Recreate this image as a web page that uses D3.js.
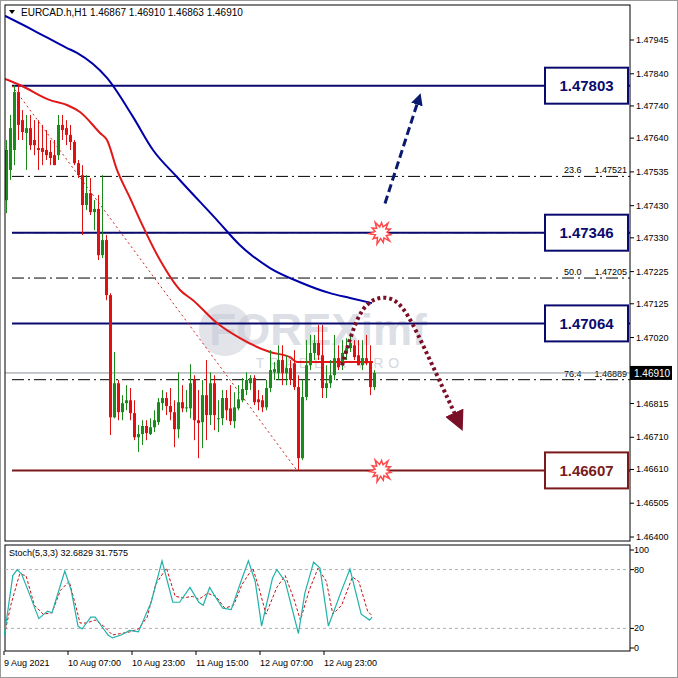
<!DOCTYPE html>
<html><head><meta charset="utf-8">
<script src="https://cdn.jsdelivr.net/npm/d3@7"></script>
<style>body{margin:0;background:#fff}svg{display:block}text{font-family:"Liberation Sans",Arial,sans-serif}</style>
</head><body>
<script>
// OHLC candles (hourly, EURCAD)
const opens=[1.47447,1.47541,1.47603,1.47783,1.47696,1.47656,1.47671,1.47634,1.47609,1.47609,1.47603,1.47597,1.47587,1.47587,1.47681,1.47671,1.47650,1.47628,1.47562,1.47525,1.47432,1.47469,1.47410,1.47420,1.47276,1.47323,1.47152,1.46772,1.46878,1.46788,1.46816,1.46825,1.46785,1.46710,1.46720,1.46745,1.46720,1.46741,1.46757,1.46816,1.46832,1.46807,1.46788,1.46735,1.46819,1.46800,1.46800,1.46888,1.46763,1.46757,1.46841,1.46779,1.46878,1.46769,1.46769,1.46832,1.46800,1.46760,1.46800,1.46825,1.46857,1.46878,1.46894,1.46828,1.46825,1.46803,1.46863,1.46912,1.46909,1.46950,1.46909,1.46925,1.46940,1.46866,1.46645,1.46835,1.46934,1.46972,1.47003,1.46965,1.46863,1.46878,1.46903,1.46956,1.46934,1.46972,1.46987,1.46996,1.46965,1.46934,1.46956,1.46944,1.46866];
const highs=[1.47634,1.47712,1.47805,1.47805,1.47727,1.47712,1.47712,1.47696,1.47696,1.47681,1.47665,1.47634,1.47634,1.47712,1.47712,1.47696,1.47681,1.47634,1.47572,1.47556,1.47525,1.47516,1.47447,1.47463,1.47525,1.47339,1.47158,1.46975,1.46888,1.46841,1.46872,1.46863,1.46825,1.46748,1.46763,1.46763,1.46769,1.46794,1.46832,1.46857,1.46850,1.46863,1.46825,1.46912,1.46872,1.46857,1.46937,1.46903,1.46857,1.46888,1.46950,1.46912,1.46903,1.46825,1.46857,1.46857,1.46872,1.46850,1.46872,1.46894,1.46912,1.46903,1.46903,1.46857,1.46841,1.46888,1.46981,1.46944,1.46996,1.46996,1.46965,1.46950,1.46981,1.46903,1.46888,1.47012,1.47028,1.47028,1.47059,1.47059,1.46934,1.46950,1.47028,1.46996,1.47012,1.47018,1.47028,1.47012,1.47012,1.47012,1.47028,1.46996,1.46919];
const lows=[1.47407,1.47510,1.47556,1.47634,1.47634,1.47541,1.47603,1.47587,1.47541,1.47556,1.47572,1.47556,1.47556,1.47572,1.47634,1.47618,1.47603,1.47556,1.47516,1.47339,1.47416,1.47401,1.47354,1.47261,1.47267,1.47136,1.46717,1.46769,1.46763,1.46763,1.46794,1.46763,1.46701,1.46664,1.46686,1.46701,1.46717,1.46726,1.46748,1.46794,1.46779,1.46763,1.46679,1.46707,1.46788,1.46788,1.46769,1.46701,1.46645,1.46676,1.46701,1.46748,1.46732,1.46726,1.46748,1.46763,1.46748,1.46738,1.46794,1.46819,1.46841,1.46857,1.46810,1.46794,1.46788,1.46794,1.46850,1.46888,1.46888,1.46872,1.46872,1.46872,1.46857,1.46608,1.46639,1.46825,1.46919,1.46950,1.46950,1.46832,1.46832,1.46863,1.46888,1.46919,1.46919,1.46950,1.46975,1.46950,1.46934,1.46919,1.46934,1.46841,1.46857];
const closes=[1.47603,1.47671,1.47783,1.47681,1.47659,1.47671,1.47618,1.47618,1.47603,1.47597,1.47587,1.47578,1.47556,1.47681,1.47665,1.47650,1.47628,1.47562,1.47525,1.47432,1.47469,1.47410,1.47420,1.47276,1.47323,1.47152,1.46772,1.46878,1.46788,1.46816,1.46825,1.46785,1.46710,1.46720,1.46745,1.46723,1.46741,1.46763,1.46819,1.46832,1.46807,1.46788,1.46735,1.46819,1.46800,1.46803,1.46878,1.46763,1.46754,1.46841,1.46779,1.46878,1.46779,1.46769,1.46832,1.46794,1.46760,1.46803,1.46828,1.46860,1.46888,1.46894,1.46819,1.46819,1.46803,1.46863,1.46919,1.46922,1.46950,1.46909,1.46925,1.46888,1.46866,1.46645,1.46835,1.46934,1.46972,1.47003,1.46965,1.46863,1.46878,1.46903,1.46956,1.46928,1.46972,1.46987,1.47003,1.46959,1.46934,1.46956,1.46940,1.46866,1.46910];
// moving averages [bar index, price]
const maRed=[[-0.25,1.47824],[3.5,1.47805],[11,1.47758],[15.25,1.47743],[18.5,1.47721],[23.5,1.47656],[25.25,1.47634],[27.75,1.47541],[31,1.47454],[33.5,1.47385],[38.5,1.47261],[43.5,1.47168],[46.75,1.47136],[52.75,1.47065],[58.5,1.47018],[66,1.46975],[71,1.46959],[72.75,1.46944],[91.75,1.46944]];
const maBlue=[[-0.25,1.48020],[6.75,1.47976],[15.25,1.47920],[17.75,1.47905],[25.25,1.47827],[31.75,1.47706],[36.75,1.47603],[42.75,1.47519],[52.75,1.47385],[58.5,1.47307],[66,1.47236],[73.5,1.47192],[81,1.47158],[86,1.47143],[91.5,1.47127]];
// stochastic [bar index, value]
const stochMain=[[-0.4,13.3],[1.7,73.9],[2.8,80],[3.9,75.4],[6.1,52.7],[8.2,30],[10.4,37.6],[11.5,36],[14.7,78.5],[16.3,58.8],[18,22.4],[19,19.4],[21.2,31.5],[22.3,31.5],[24.4,19.4],[25.5,13.3],[26.6,10.3],[28.8,13.3],[30.9,17.9],[33.1,16.4],[36.3,46.7],[39,89],[41.7,46.7],[43.4,46.7],[46,61.8],[48.2,46.7],[49.3,43.6],[50.9,61.8],[52.5,51.2],[54.2,40.6],[56.3,39.1],[59,70.9],[60.6,89],[62.3,67.9],[63.9,22.4],[66.6,70.9],[67.7,80],[69.8,67.9],[73.1,14.8],[74.7,55.8],[76.9,87.6],[78.5,81.5],[80.6,22.4],[83.9,58.8],[86,80.6],[88.8,34.5],[90.9,28.5],[91.5,31.5]];
const stochSignal=[[-0.4,13.3],[1.2,43.6],[3.4,75.4],[5,73.9],[7.1,43.6],[9.3,34.5],[11.5,36],[13.6,58.8],[15.8,67.9],[17.4,43.6],[18.5,25.5],[20.1,25.5],[22.3,28.5],[24.4,22.4],[26.6,13.3],[28.8,14.8],[30.9,16.4],[33.1,19.4],[35.3,31.5],[37.4,64.8],[40.1,81.5],[42.3,52.7],[44.4,51.2],[46.6,52.7],[48.2,49.7],[50.4,55.8],[52.5,52.7],[54.7,40.6],[56.9,43.6],[59,64.8],[61.7,81.5],[63.4,58.8],[65,34.5],[67.7,61.8],[69.8,73.9],[72,49.7],[73.6,28.5],[75.8,58.8],[78,81.5],[80.1,67.9],[81.7,34.5],[83.9,43.6],[86.6,72.4],[88.2,67.9],[90.4,37.6],[91.5,33]];
const priceTicks=[1.47945,1.47840,1.47740,1.47640,1.47535,1.47430,1.47330,1.47225,1.47125,1.47020,1.46815,1.46710,1.46610,1.46505,1.46400];
const timeTicks=[[0,"9 Aug 2021"],[16,"10 Aug 07:00"],[32,"10 Aug 23:00"],[48,"11 Aug 15:00"],[64,"12 Aug 07:00"],[80,"12 Aug 23:00"]];
const levels=[{p:1.47803,label:"1.47803",c:"#0a0a6e"},{p:1.47346,label:"1.47346",c:"#0a0a6e"},{p:1.47064,label:"1.47064",c:"#0a0a6e"},{p:1.46607,label:"1.46607",c:"#7a1a1a"}];
const fibs=[{p:1.47521,t:"23.6",v:"1.47521"},{p:1.47346,t:"",v:""},{p:1.47205,t:"50.0",v:"1.47205"},{p:1.46889,t:"76.4",v:"1.46889"}];
const stochTicks=[100,80,20,0];
const header="EURCAD.h,H1  1.46867 1.46910 1.46863 1.46910";
const lastPrice=1.46910;
const bearPath=[[84,1.46934],[87.5,1.47080],[91,1.47140],[96,1.47150],[100,1.47110],[106,1.46950],[112.5,1.46775]];

const W=678,H=678,L=5,R=630,T=5,B=541,ST=545,SB=651;
const svg=d3.select("body").append("svg").attr("width",W).attr("height",H);
const x=d3.scaleLinear().domain([-0.25,156]).range([L,R]);
const y=d3.scaleLinear().domain([1.46400,1.47945]).range([537,40]);
const ys=d3.scaleLinear().domain([0,100]).range([648,550]);
svg.append("rect").attr("width",W).attr("height",H).attr("fill","#fff");
const main=svg.append("g");
const dfs=main.append("defs");
dfs.append("clipPath").attr("id","cm").append("rect").attr("x",L).attr("y",T).attr("width",R-L).attr("height",B-T);
// watermark
main.append("circle").attr("cx",225).attr("cy",330).attr("r",26).attr("fill","#c8cad6").attr("opacity",0.5);
main.append("text").attr("x",318).attr("y",345).attr("text-anchor","middle").attr("font-size",44).attr("font-weight","bold").attr("fill","#c8cad6").attr("opacity",0.6).text("FOREXimf");
main.append("text").attr("x",330).attr("y",368).attr("text-anchor","middle").attr("font-size",14).attr("letter-spacing",5).attr("fill","#d5d7e0").text("TRADE A PRO");
const g=main.append("g").attr("clip-path","url(#cm)");
fibs.forEach(f=>{g.append("line").attr("x1",12).attr("x2",R).attr("y1",y(f.p)).attr("y2",y(f.p)).attr("stroke","#000").attr("stroke-dasharray","12,4,2,4");
 if(f.t){g.append("text").attr("x",564).attr("y",y(f.p)-3).attr("font-size",9).text(f.t);g.append("text").attr("x",627).attr("y",y(f.p)-3).attr("font-size",9).attr("text-anchor","end").text(f.v);}});
g.append("line").attr("x1",L).attr("x2",R).attr("y1",y(lastPrice)).attr("y2",y(lastPrice)).attr("stroke","#8a8f96");
levels.forEach(l=>g.append("line").attr("x1",12).attr("x2",R).attr("y1",y(l.p)).attr("y2",y(l.p)).attr("stroke",l.c).attr("stroke-width",2));
g.append("line").attr("x1",x(1.5)).attr("y1",y(1.47803)).attr("x2",x(72.75)).attr("y2",y(1.46607)).attr("stroke","#d02020").attr("stroke-dasharray","2,3");
const ln=d3.line().x(d=>x(d[0])).y(d=>y(d[1])).curve(d3.curveMonotoneX);
g.append("path").attr("d",ln(maBlue)).attr("fill","none").attr("stroke","#0000a8").attr("stroke-width",2);
g.append("path").attr("d",ln(maRed)).attr("fill","none").attr("stroke","#e01818").attr("stroke-width",2);
opens.forEach((o,i)=>{const c=closes[i],up=c>=o,col=up?"#1a8a1a":"#e01010",cx=Math.round(x(i))+0.5;
 g.append("line").attr("x1",cx).attr("x2",cx).attr("y1",y(highs[i])).attr("y2",y(lows[i])).attr("stroke",col);
 const t=y(Math.max(o,c)),b=y(Math.min(o,c));
 g.append("rect").attr("x",cx-1.5).attr("y",t).attr("width",3).attr("height",Math.max(1,b-t)).attr("fill",col);});
dfs.append("marker").attr("id","ah").attr("viewBox","0 0 10 10").attr("refX",3).attr("refY",5).attr("markerWidth",4).attr("markerHeight",4).attr("orient","auto").append("path").attr("d","M0,0L10,5L0,10z").attr("fill","#0a1a6e");
dfs.append("marker").attr("id","ah2").attr("viewBox","0 0 10 10").attr("refX",2).attr("refY",5).attr("markerWidth",5).attr("markerHeight",5).attr("orient","auto").append("path").attr("d","M0,0L10,5L0,10z").attr("fill","#7a1028");
g.append("line").attr("x1",x(94.75)).attr("y1",y(1.47437)).attr("x2",x(103)).attr("y2",y(1.47755)).attr("stroke","#0a1a6e").attr("stroke-width",3).attr("stroke-dasharray","8,4").attr("marker-end","url(#ah)");
g.append("path").attr("d",d3.line().x(d=>x(d[0])).y(d=>y(d[1])).curve(d3.curveBasis)(bearPath)).attr("fill","none").attr("stroke","#7a1028").attr("stroke-width",4).attr("stroke-dasharray","3,3").attr("marker-end","url(#ah2)");
function star(px,py){const pts=[];for(let k=0;k<22;k++){const r=k%2?6:(k%4?12:10),a=k*Math.PI/11+0.2;pts.push([px+r*Math.cos(a),py+r*Math.sin(a)]);}
 g.append("path").attr("d","M"+pts.join("L")+"Z").attr("fill","#fff").attr("stroke","#ff4a4a").attr("stroke-width",1.5);}
star(x(93.75),y(1.47346));star(x(93.75),y(1.46607));
levels.forEach(l=>{const yy=y(l.p);main.append("rect").attr("x",545).attr("y",yy-18).attr("width",83).attr("height",36).attr("fill","#fff").attr("stroke",l.c).attr("stroke-width",2);
 main.append("text").attr("x",586.5).attr("y",yy+5.5).attr("text-anchor","middle").attr("font-size",15).attr("font-weight","bold").attr("fill",l.c).text(l.label);});
svg.append("rect").attr("x",L).attr("y",T).attr("width",R-L).attr("height",B-T).attr("fill","none").attr("stroke","#000");
svg.append("rect").attr("x",L).attr("y",ST).attr("width",R-L).attr("height",SB-ST).attr("fill","none").attr("stroke","#000");
svg.append("rect").attr("x",0.5).attr("y",0.5).attr("width",W-1).attr("height",H-1).attr("fill","none").attr("stroke","#999");
priceTicks.forEach(p=>{svg.append("line").attr("x1",R).attr("x2",R+4).attr("y1",y(p)).attr("y2",y(p)).attr("stroke","#000");
 svg.append("text").attr("x",636).attr("y",y(p)+3).attr("font-size",9).text(p.toFixed(5));});
svg.append("rect").attr("x",R).attr("y",y(lastPrice)-7).attr("width",42).attr("height",14).attr("fill","#000");
svg.append("text").attr("x",634).attr("y",y(lastPrice)+4).attr("font-size",10).attr("fill","#fff").text(lastPrice.toFixed(5));
svg.append("path").attr("d","M9,10L15,10L12,14Z").attr("fill","#000");
svg.append("text").attr("x",21).attr("y",16).attr("font-size",10).text(header);
[80,20].forEach(v=>svg.append("line").attr("x1",L).attr("x2",R).attr("y1",ys(v)).attr("y2",ys(v)).attr("stroke","#b0b0b0").attr("stroke-dasharray","3,3"));
const sl=d3.line().x(d=>x(d[0])).y(d=>ys(d[1]));
svg.append("path").attr("d",sl(stochSignal)).attr("fill","none").attr("stroke","#cc1010").attr("stroke-dasharray","3,2");
svg.append("path").attr("d",sl(stochMain)).attr("fill","none").attr("stroke","#20b2aa").attr("stroke-width",1.2);
svg.append("text").attr("x",9).attr("y",556).attr("font-size",9).text("Stoch(5,3,3) 32.6829 31.7575");
stochTicks.forEach(v=>{svg.append("line").attr("x1",R).attr("x2",R+4).attr("y1",ys(v)).attr("y2",ys(v)).attr("stroke","#000");
 svg.append("text").attr("x",634).attr("y",ys(v)+3).attr("font-size",9).text(v);});
timeTicks.forEach(([i,t])=>{const xx=x(i)-2;svg.append("line").attr("x1",xx).attr("x2",xx).attr("y1",SB).attr("y2",SB+4).attr("stroke","#000");
 svg.append("text").attr("x",xx).attr("y",666).attr("font-size",9).text(t);});
</script></body></html>
